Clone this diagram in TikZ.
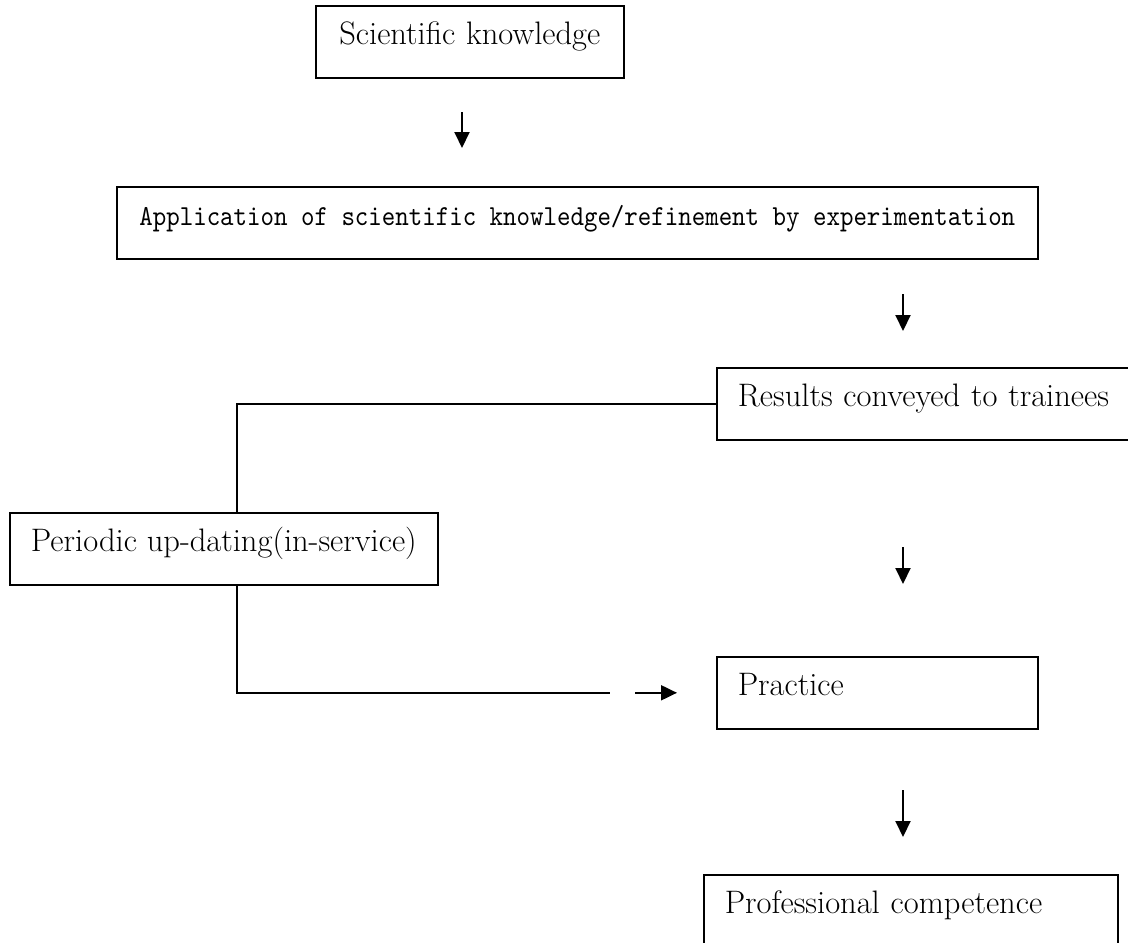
\documentclass[tikz,border=0pt]{standalone}
\usepackage{fontspec}
\newfontfamily\condmono[Extension=.otf, FakeStretch=0.885]{lmmono10-regular}
\usetikzlibrary{arrows.meta, positioning}

\begin{document}
\begin{tikzpicture}[x=1pt, y=-1pt, >={Triangle[length=16pt, width=15pt]}]
  \tikzstyle{block} = [rectangle, draw, line width=1.6pt, anchor=north west, inner xsep=21pt, inner ysep=0pt, text height=39pt, text depth=33pt, align=left, font=\fontsize{32.5}{36}\selectfont]
  \tikzstyle{link} = [line width=1.4pt]
  \tikzstyle{flow} = [->, line width=2pt]

  \clip (0,0) rectangle (1128,943);

  \node [block, text width=266pt, align=center] (sk) at (315,5) {Scientific knowledge};
  \node [block, minimum width=921pt, font=\condmono\fontsize{29}{34}\selectfont] (app) at (116,186) {Application of scientific knowledge/refinement by experimentation};
  \node [block, text width=382pt] (rc) at (716,367) {Results conveyed to trainees};
  \node [block, minimum width=428pt] (pu) at (9,512) {Periodic up-dating(in-service)};
  \node [block, text width=279pt] (pr) at (716,656) {Practice};
  \node [block, text width=372pt] (pc) at (703,874) {Professional competence};

  % short arrows between the stages
  \coordinate (a1) at (462,112);  \coordinate (b1) at (462,148);
  \coordinate (a2) at (903,294);  \coordinate (b2) at (903,331);
  \coordinate (a3) at (903,547);  \coordinate (b3) at (903,584);
  \coordinate (a4) at (903,790);  \coordinate (b4) at (903,837);
  \draw[flow] (a1) -- (b1);
  \draw[flow] (a2) -- (b2);
  \draw[flow] (a3) -- (b3);
  \draw[flow] (a4) -- (b4);

  % in-service loop
  \draw[link] (rc.west) -| ([xshift=13pt]pu.north);
  \draw[link] ([xshift=13pt]pu.south) |- ([xshift=-106pt]pr.west);
  \draw[flow] ([xshift=-81pt]pr.west) -- ([xshift=-39pt]pr.west);
\end{tikzpicture}
\end{document}
